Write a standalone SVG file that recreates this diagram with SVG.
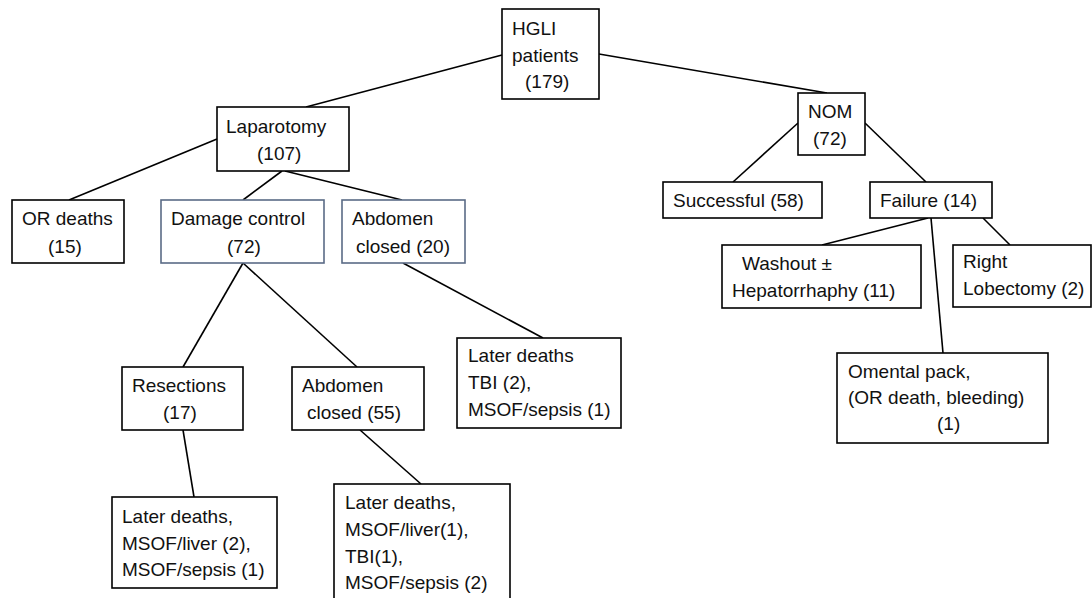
<svg xmlns="http://www.w3.org/2000/svg" width="1092" height="598" viewBox="0 0 1092 598">
<style>
.box{fill:#fff;stroke:#000;stroke-width:1.6}
.blue{fill:#fff;stroke:#5a6b86;stroke-width:1.6}
.t{font-family:"Liberation Sans",Arial,sans-serif;font-size:19px;fill:#111}
.c{stroke:#000;stroke-width:1.6;fill:none}
</style>
<rect width="1092" height="598" fill="#fff"/>
<g id="connectors">
<line class="c" x1="502" y1="55" x2="306" y2="107"/>
<line class="c" x1="599" y1="54" x2="827" y2="93"/>
<line class="c" x1="217" y1="139" x2="69" y2="200"/>
<line class="c" x1="282" y1="171" x2="243" y2="200"/>
<line class="c" x1="285" y1="171" x2="402" y2="200"/>
<line class="c" x1="798" y1="123" x2="733" y2="182"/>
<line class="c" x1="865" y1="123" x2="926" y2="182"/>
<line class="c" x1="928" y1="218" x2="822" y2="245"/>
<line class="c" x1="931" y1="218" x2="943" y2="353"/>
<line class="c" x1="983" y1="218" x2="1010" y2="245"/>
<line class="c" x1="243" y1="263" x2="183" y2="367"/>
<line class="c" x1="243" y1="263" x2="357" y2="367"/>
<line class="c" x1="403" y1="263" x2="543" y2="338"/>
<line class="c" x1="183" y1="430" x2="194" y2="497"/>
<line class="c" x1="360" y1="430" x2="421" y2="484"/>
</g>
<g id="hgli">
<rect class="box" x="502" y="9" width="97" height="90"/>
<text class="t" x="512" y="35">HGLI</text>
<text class="t" x="512" y="62">patients</text>
<text class="t" x="525" y="88">(179)</text>
</g>
<g id="laparotomy">
<rect class="box" x="217" y="107" width="132" height="64"/>
<text class="t" x="226" y="133">Laparotomy</text>
<text class="t" x="257" y="160">(107)</text>
</g>
<g id="nom">
<rect class="box" x="798" y="93" width="67" height="62"/>
<text class="t" x="808" y="118">NOM</text>
<text class="t" x="813" y="145">(72)</text>
</g>
<g id="or-deaths">
<rect class="box" x="12" y="200" width="112" height="63"/>
<text class="t" x="22" y="225">OR deaths</text>
<text class="t" x="48" y="253">(15)</text>
</g>
<g id="damage-control">
<rect class="blue" x="161" y="200" width="163" height="63"/>
<text class="t" x="171" y="225">Damage control</text>
<text class="t" x="227" y="253">(72)</text>
</g>
<g id="abdomen-closed-20">
<rect class="blue" x="342" y="200" width="123" height="63"/>
<text class="t" x="352" y="225">Abdomen</text>
<text class="t" x="356" y="253">closed (20)</text>
</g>
<g id="successful">
<rect class="box" x="663" y="182" width="159" height="36"/>
<text class="t" x="673" y="207">Successful (58)</text>
</g>
<g id="failure">
<rect class="box" x="870" y="182" width="122" height="36"/>
<text class="t" x="880" y="207">Failure (14)</text>
</g>
<g id="washout">
<rect class="box" x="722" y="245" width="199" height="63"/>
<text class="t" x="742" y="270">Washout ±</text>
<text class="t" x="732" y="297">Hepatorrhaphy (11)</text>
</g>
<g id="right-lobectomy">
<rect class="box" x="953" y="245" width="138" height="62"/>
<text class="t" x="963" y="268">Right</text>
<text class="t" x="963" y="295">Lobectomy (2)</text>
</g>
<g id="omental-pack">
<rect class="box" x="837" y="353" width="211" height="90"/>
<text class="t" x="848" y="378">Omental pack,</text>
<text class="t" x="848" y="404">(OR death, bleeding)</text>
<text class="t" x="937" y="430">(1)</text>
</g>
<g id="resections">
<rect class="box" x="122" y="367" width="121" height="63"/>
<text class="t" x="132" y="392">Resections</text>
<text class="t" x="163" y="419">(17)</text>
</g>
<g id="abdomen-closed-55">
<rect class="box" x="292" y="367" width="132" height="63"/>
<text class="t" x="302" y="392">Abdomen</text>
<text class="t" x="307" y="419">closed (55)</text>
</g>
<g id="later-deaths-tbi">
<rect class="box" x="457" y="338" width="164" height="90"/>
<text class="t" x="468" y="362">Later deaths</text>
<text class="t" x="468" y="389">TBI (2),</text>
<text class="t" x="468" y="416">MSOF/sepsis (1)</text>
</g>
<g id="later-deaths-resections">
<rect class="box" x="112" y="497" width="165" height="91"/>
<text class="t" x="122" y="523">Later deaths,</text>
<text class="t" x="122" y="550">MSOF/liver (2),</text>
<text class="t" x="122" y="576">MSOF/sepsis (1)</text>
</g>
<g id="later-deaths-closed">
<rect class="box" x="334" y="484" width="176" height="120"/>
<text class="t" x="345" y="509">Later deaths,</text>
<text class="t" x="345" y="536">MSOF/liver(1),</text>
<text class="t" x="345" y="563">TBI(1),</text>
<text class="t" x="345" y="589">MSOF/sepsis (2)</text>
</g>
</svg>
